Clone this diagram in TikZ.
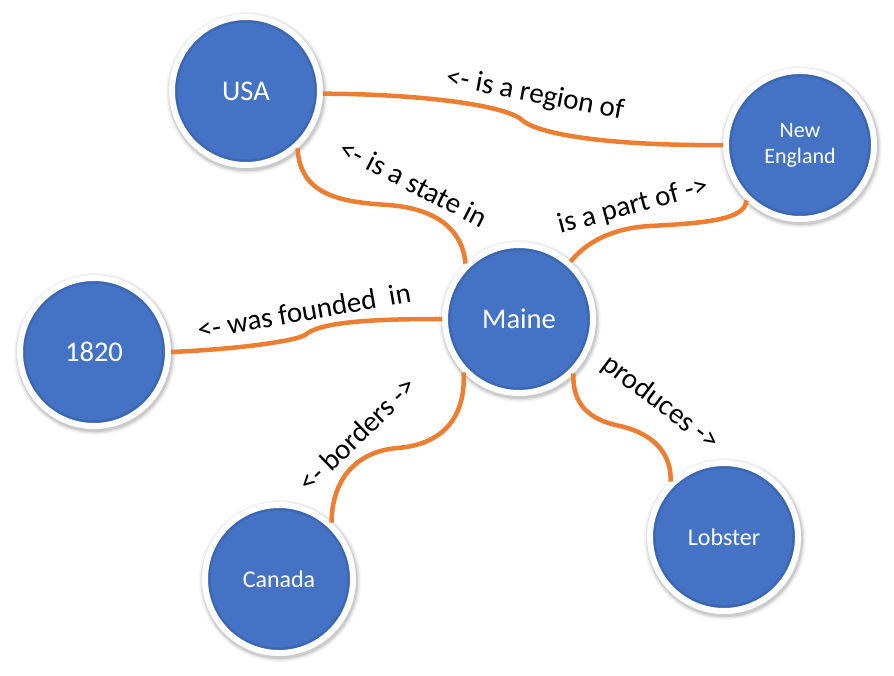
\documentclass[tikz,border=0pt]{standalone}
\usepackage{fontspec}
\setmainfont{Carlito}
\usetikzlibrary{backgrounds}
\definecolor{nodeblue}{HTML}{4472C4}
\definecolor{edgeorange}{HTML}{ED7D31}
\definecolor{shadeblue}{HTML}{2F5597}
\begin{document}
\begin{tikzpicture}[x=1pt,y=-1pt,
  concept/.style={circle, minimum size=148pt, inner sep=0pt, fill=nodeblue,
    draw=white, line width=6pt, text=white, align=center,
    path picture={\draw[line width=3pt, draw=shadeblue, opacity=0.4]
      (path picture bounding box.center) circle[radius=70pt];}},
  big/.style={font=\fontsize{28.5}{32}\selectfont},
  mid/.style={font=\fontsize{24}{28}\selectfont},
  small/.style={font=\fontsize{22}{26}\selectfont},
  link/.style={draw=edgeorange, line width=4.5pt},
  lbl/.style={font=\fontsize{29}{34}\selectfont, inner sep=0pt, text=black}]
\useasboundingbox (0,0) rectangle (894,675);

\node[concept, big]   (usa)     at (246,91)  {USA};
\node[concept, small] (ne)      at (800,145) {New\\England};
\node[concept, big]   (maine)   at (519,319) {Maine};
\node[concept, big]   (y1820)   at (94,352)  {1820};
\node[concept, mid]   (canada)  at (279,579) {Canada};
\node[concept, mid]   (lobster) at (724,537) {Lobster};

\begin{scope}[on background layer]
  \fill[white] (0,0) rectangle (894,675);
  \foreach \n in {usa,ne,maine,y1820,canada,lobster}{
    \foreach \r/\o in {78/0.10,79.5/0.07,81/0.04}{
      \fill[black,opacity=\o] ([shift={(1,2)}]\n.center) circle[radius=\r pt];
    }
  }
\end{scope}

\draw[link] (usa.-2) .. controls (420,94) and (505,105) .. (522,120)
  .. controls (540,136) and (620,146) .. (ne.180);
\draw[link] (usa.-48) .. controls (300,195) and (340,202) .. (388,205)
  .. controls (430,208) and (462,225) .. (maine.134);
\draw[link] (maine.48) .. controls (585,243) and (612,228) .. (650,226)
  .. controls (705,223) and (745,220) .. (ne.226);
\draw[link] (maine.180) .. controls (370,319) and (320,322) .. (305,335)
  .. controls (295,341) and (240,349) .. (y1820.0);
\draw[link] (maine.224) .. controls (466,420) and (440,445) .. (397,448)
  .. controls (355,452) and (332,480) .. (canada.47);
\draw[link] (maine.-45) .. controls (572,405) and (590,420) .. (620,426)
  .. controls (655,434) and (672,455) .. (lobster.134);

\node[lbl, rotate=-11] (l1) at (535,95)  {<- is a region of};
\node[lbl, rotate=-27] (l2) at (414,183) {<- is a state in};
\node[lbl, rotate=15]  (l3) at (633,206) {is a part of ->};
\node[lbl, rotate=10]  (l4) at (304,311) {<- was founded\ \ in};
\node[lbl, rotate=44]  (l5) at (357,434) {<- borders ->};
\node[lbl, rotate=-37] (l6) at (660,403) {produces ->};
\end{tikzpicture}
\end{document}
